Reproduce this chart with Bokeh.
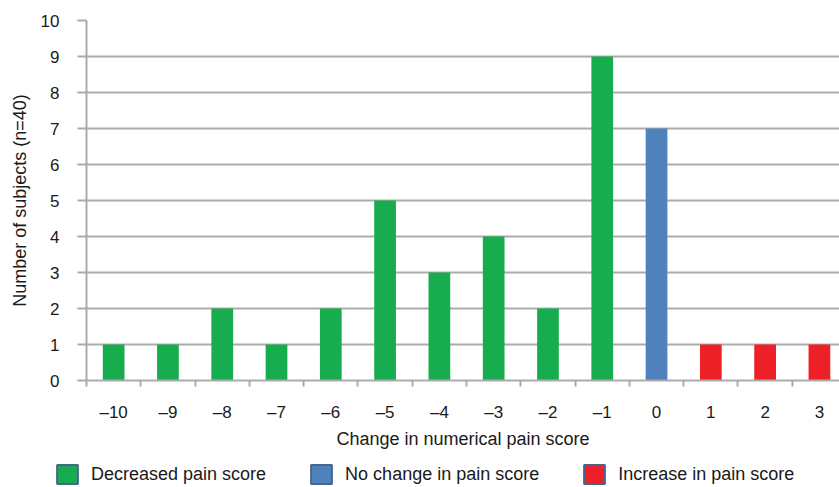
from bokeh.plotting import figure
from bokeh.models import Range1d, FixedTicker, Legend, LegendItem, ColumnDataSource
from bokeh.layouts import column
from bokeh.embed import file_html
from bokeh.resources import INLINE

# ---- data ----
changes = [-10, -9, -8, -7, -6, -5, -4, -3, -2, -1, 0, 1, 2, 3]
tick_labels = ["\u201310", "\u20139", "\u20138", "\u20137", "\u20136", "\u20135", "\u20134",
               "\u20133", "\u20132", "\u20131", "0", "1", "2", "3"]
subjects = [1, 1, 2, 1, 2, 5, 3, 4, 2, 9, 7, 1, 1, 1]
y_ticks = [0, 1, 2, 3, 4, 5, 6, 7, 8, 9, 10]
series_names = ["Decreased pain score", "No change in pain score", "Increase in pain score"]

GREEN = "#17AD4E"
BLUE = "#4F81BD"
RED = "#EE2027"
FONT = "Liberation Sans"
GRID = "#ABABAB"

dec_x = [c for c in changes if c < 0]
dec_y = [v for c, v in zip(changes, subjects) if c < 0]
nc_x = [c for c in changes if c == 0]
nc_y = [v for c, v in zip(changes, subjects) if c == 0]
inc_x = [c for c in changes if c > 0]
inc_y = [v for c, v in zip(changes, subjects) if c > 0]

p = figure(width=839, height=456, output_backend="svg", toolbar_location=None,
           x_range=Range1d(-10.5, 3.37), y_range=Range1d(0, 10),
           min_border_left=86, min_border_right=0, min_border_top=20, min_border_bottom=76)
p.outline_line_color = None
p.background_fill_color = "white"
p.frame_align = False

bw = 0.4
p.vbar(x=dec_x, top=dec_y, width=bw, fill_color=GREEN, line_color=None)
p.vbar(x=nc_x, top=nc_y, width=bw, fill_color=BLUE, line_color=None)
p.vbar(x=inc_x, top=inc_y, width=bw, fill_color=RED, line_color=None)

# x axis
boundaries = [c - 0.5 for c in changes] + [changes[-1] + 0.5]
p.xaxis.ticker = FixedTicker(ticks=changes, minor_ticks=boundaries)
p.xaxis.major_label_overrides = {c: l for c, l in zip(changes, tick_labels)}
p.xaxis.major_tick_line_color = None
p.xaxis.major_tick_out = 0
p.xaxis.major_tick_in = 0
p.xaxis.minor_tick_line_color = GRID
p.xaxis.minor_tick_line_width = 2
p.xaxis.minor_tick_out = 6
p.xaxis.minor_tick_in = 0
p.xaxis.axis_line_color = GRID
p.xaxis.axis_line_width = 2
p.xaxis.major_label_standoff = 16
p.xaxis.axis_label = "Change in numerical pain score"
p.xaxis.axis_label_standoff = 4

# y axis
p.yaxis.ticker = FixedTicker(ticks=y_ticks)
p.yaxis.minor_tick_line_color = None
p.yaxis.major_tick_line_color = GRID
p.yaxis.major_tick_line_width = 2
p.yaxis.major_tick_out = 9
p.yaxis.major_tick_in = 0
p.yaxis.axis_line_color = GRID
p.yaxis.axis_line_width = 2
p.yaxis.major_label_standoff = 18
p.yaxis.axis_label = "Number of subjects (n=40)"
p.yaxis.axis_label_standoff = 8

for ax in (p.xaxis, p.yaxis):
    ax.major_label_text_font = FONT
    ax.major_label_text_font_size = "17px"
    ax.major_label_text_color = "#1a1a1a"
    ax.axis_label_text_font = FONT
    ax.axis_label_text_font_size = "18px"
    ax.axis_label_text_font_style = "normal"
    ax.axis_label_text_color = "#1a1a1a"

p.xgrid.grid_line_color = None
p.ygrid.grid_line_color = GRID
p.ygrid.grid_line_width = 2

# ---- legend strip below the chart ----
lf = figure(width=839, height=31, output_backend="svg", toolbar_location=None,
            x_range=Range1d(0, 1), y_range=Range1d(0, 1),
            x_axis_type=None, y_axis_type=None,
            min_border_left=0, min_border_right=0, min_border_top=0, min_border_bottom=0)
lf.outline_line_color = None
lf.xgrid.visible = False
lf.ygrid.visible = False
lf.frame_align = False

# swatch renderers: one placeholder row with no position, so nothing is drawn in the strip
src_swatch = ColumnDataSource(data=dict(x=[float("nan")], top=[float("nan")]))
lg = []
for name, col in zip(series_names, [GREEN, BLUE, RED]):
    r = lf.vbar(x="x", top="top", width=bw, source=src_swatch, fill_color=col,
                line_color="#48658F", line_width=2)
    lg.append(LegendItem(label=name, renderers=[r]))

legend = Legend(items=lg, orientation="horizontal", location=(54, 1),
                glyph_width=26, glyph_height=24, label_standoff=11, spacing=42,
                padding=0, margin=0, border_line_color=None, background_fill_alpha=0,
                label_text_font=FONT, label_text_font_size="18px", label_text_color="#1a1a1a")
lf.add_layout(legend, "center")

layout = column(p, lf, spacing=0)
open("out.html", "w").write(file_html(layout, INLINE))
